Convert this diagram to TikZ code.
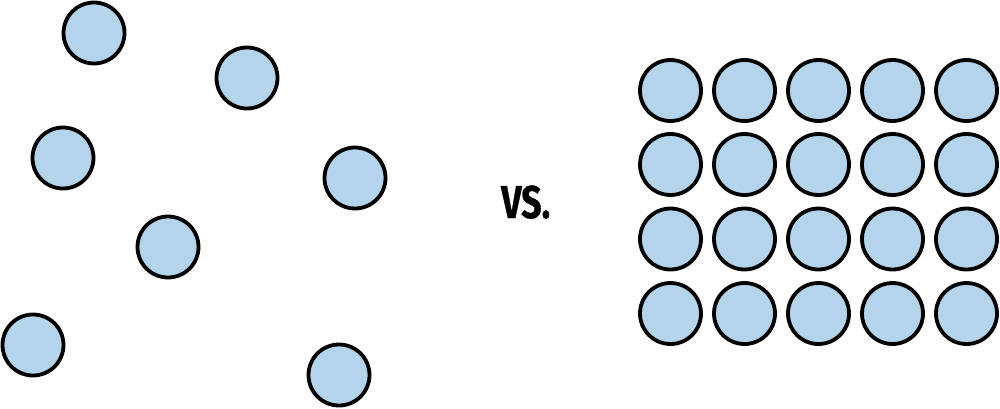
\documentclass[tikz,border=0pt]{standalone}
\usepackage{fontspec}
\newfontfamily\vsfont{Fira Sans}[FakeStretch=0.78,FakeBold=0.6]
\definecolor{ballfill}{RGB}{179,212,234}
\begin{document}
\begin{tikzpicture}[x=1pt,y=-1pt,
  ball/.style={circle,draw=black,fill=ballfill,line width=3.8pt,minimum size=61pt,inner sep=0pt}]
\useasboundingbox (0,0) rectangle (1000,409);
% scattered
\node[ball] (s1) at (94,33) {};
\node[ball] (s2) at (247,78) {};
\node[ball] (s3) at (63,158) {};
\node[ball] (s4) at (355,178) {};
\node[ball] (s5) at (168,247) {};
\node[ball] (s6) at (33,345) {};
\node[ball] (s7) at (339,375) {};
% grid
\foreach \r/\y in {1/90.5,2/164.5,3/239,4/313.5}{
  \foreach \c/\x in {1/670.5,2/744.5,3/818.5,4/892.5,5/966.5}{
    \node[ball] (g\r\c) at (\x,\y) {};
  }
}
\node[font=\vsfont\bfseries\fontsize{46}{46}\selectfont,inner sep=0pt,anchor=base west] (vs) at (501,218) {VS.};
\end{tikzpicture}
\end{document}
